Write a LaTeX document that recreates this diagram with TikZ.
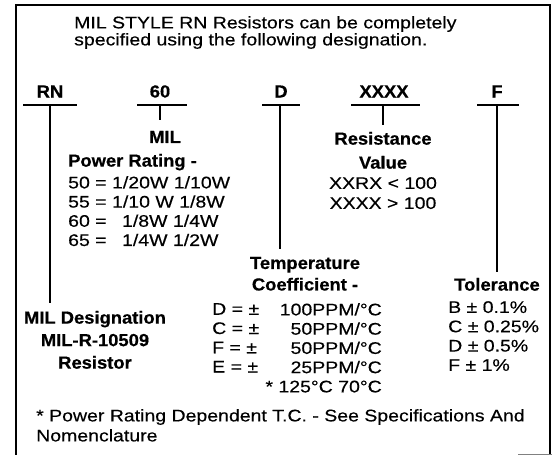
\documentclass[tikz,border=0pt]{standalone}
\usepackage{fontspec}
\setmainfont{Liberation Sans}[FakeStretch=1.16, FakeBold=0.35]
\newfontfamily\hdfont{Liberation Sans}[FakeStretch=1.05, FakeBold=0.5]
\usepackage{tikz}
\usetikzlibrary{calc}

\begin{document}
\begin{tikzpicture}[x=1pt, y=-1pt,
  every node/.style={inner sep=0pt},
  lbl/.style={font=\hdfont\bfseries\fontsize{17.5}{17.5}\selectfont, anchor=base},
  hd/.style={font=\hdfont\bfseries\fontsize{17.5}{#1}\selectfont,
             align=center, anchor=north},
  hd/.default=22,
  txt/.style={font=\fontsize{16.8}{#1}\selectfont,
              align=left, anchor=north west},
  txt/.default=19.3,
  bar/.style={line width=1.7pt},
  frm/.style={line width=2pt}
]
\useasboundingbox (0,0) rectangle (552,455);

%% frame
\draw[frm] (16,455) -- (16,5) -- (550,5) -- (550,455);
\draw[gray, line width=1pt] (518,454) -- (552,454);

%% heading
\node[txt=17] (title) at (74,16)
     {MIL STYLE RN Resistors can be completely\\
      specified using the following designation.};

%% designation fields
\node[lbl] (rn)  at (50,97.5)  {RN};
\node[lbl] (pwr) at (160,97.5) {60};
\node[lbl] (tc)  at (281,97.5) {D};
\node[lbl] (res) at (384,97.5) {XXXX};
\node[lbl] (tol) at (497,97.5) {F};

\coordinate (rnT)  at (50,105);
\coordinate (pwrT) at (160,105);
\coordinate (tcT)  at (280,105);
\coordinate (resT) at (383,105);
\coordinate (tolT) at (497,105);

\draw[bar] (rnT)  +(-27,0) -- +(27,0);
\draw[bar] (pwrT) +(-23,0) -- +(27,0);
\draw[bar] (tcT)  +(-18,0) -- +(20,0);
\draw[bar] (resT) +(-32,0) -- +(37,0);
\draw[bar] (tolT) +(-20,0) -- +(22,0);

%% power rating
\node[hd] (mil) at (165,130.75) {MIL};
\node[hd, anchor=north west] (pwrhd) at (68,153.75) {Power Rating -};
\node[txt=19.2] (pwrtab) at (68,176)
     {50 = 1/20W 1/10W\\
      55 = 1/10 W 1/8W\\
      60 = \hspace{10pt}1/8W 1/4W\\
      65 = \hspace{10pt}1/4W 1/2W};

%% resistance
\node[hd=24] (reshd) at (383,131.75) {Resistance\\Value};
\node[txt=20, align=center, anchor=north] (resval) at (383,177)
     {XXRX < 100\\XXXX > 100};

%% temperature coefficient
\node[hd=21.5] (tchd) at (305,256.75) {Temperature\\Coefficient -};
\node[txt=19.25] (tcl) at (212,303)
     {D = ±\\C = ±\\F = ±\\E = ±};
\node[txt=19.25, align=right, anchor=north east] (tcr) at (382,303)
     {100PPM/°C\\50PPM/°C\\50PPM/°C\\25PPM/°C\\* 125°C 70°C};

%% tolerance
\node[hd] (tolhd) at (497,277.75) {Tolerance};
\node[txt] (tolval) at (448,301)
     {B ± 0.1\%\\C ± 0.25\%\\D ± 0.5\%\\F ± 1\%};

%% designation
\node[hd=22.5] (desig) at (95,310.75)
     {MIL Designation\\MIL-R-10509\\Resistor};

%% footnote
\node[txt=20] (note) at (36,409)
     {* Power Rating Dependent T.C. - See Specifications And\\
      Nomenclature};

%% stems
\draw[bar, shorten >=8pt]     (rnT)  -- (rnT |- desig.north);
\draw[bar, shorten >=10.75pt] (pwrT) -- (pwrT |- mil.north);
\draw[bar, shorten >=7.75pt]  (tcT)  -- (tcT |- tchd.north);
\draw[bar, shorten >=6.75pt]  (resT) -- (resT |- reshd.north);
\draw[bar, shorten >=5.75pt]  (tolT) -- (tolT |- tolhd.north);

\end{tikzpicture}
\end{document}
